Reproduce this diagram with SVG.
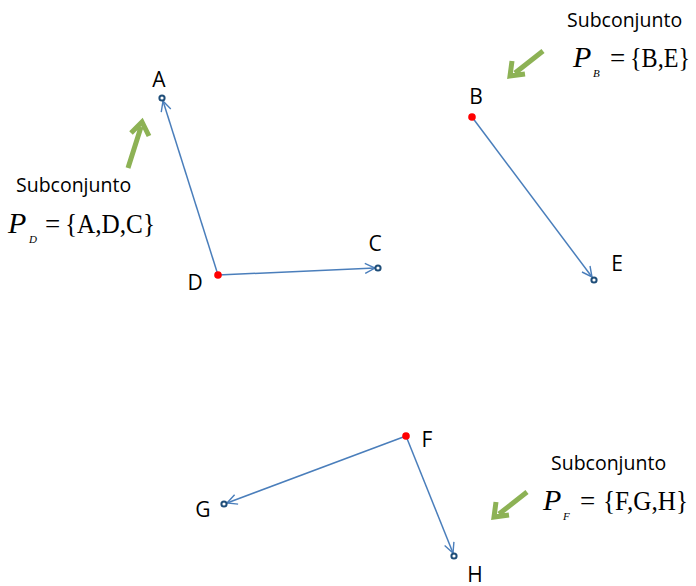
<svg xmlns="http://www.w3.org/2000/svg" width="696" height="586" viewBox="0 0 696 586">
<defs>
<marker id="open" viewBox="0 0 12 12" refX="11" refY="6" markerWidth="12" markerHeight="12" markerUnits="userSpaceOnUse" orient="auto">
<path d="M1,1 L11,6 L1,11" fill="none" stroke="#4a7ebb" stroke-width="1.4"/>
</marker>
</defs>
<style>
.lbl{font-family:"Open Sans","Liberation Sans",sans-serif;font-size:21px;fill:#000}
.sub{font-family:"Open Sans","Liberation Sans",sans-serif;font-size:19.5px;fill:#000}
.mP{font-family:"Liberation Serif",serif;font-style:italic;font-size:30px;fill:#000}
.ms{font-family:"Liberation Serif",serif;font-style:italic;font-size:11px;fill:#000}
.mt{font-family:"Liberation Serif",serif;font-size:27px;fill:#000}
.edge{stroke:#4a7ebb;stroke-width:1.5;fill:none;marker-end:url(#open)}
.red{fill:#ff0000}
.end{fill:#fff;stroke:#1f4e79;stroke-width:2}
.garr{stroke:#8db255;stroke-width:5;fill:none}
</style>
<g id="connectors">
<line class="edge" x1="218" y1="275" x2="163" y2="101"/>
<line class="edge" x1="218" y1="275" x2="375" y2="268"/>
<line class="edge" x1="472" y1="117" x2="592" y2="277"/>
<line class="edge" x1="406" y1="436" x2="227" y2="503"/>
<line class="edge" x1="406" y1="436" x2="453" y2="553"/>
</g>
<g id="nodeA"><circle class="end" cx="162" cy="98" r="2.6"/><text class="lbl" x="159" y="87" text-anchor="middle">A</text></g>
<g id="nodeD"><circle class="red" cx="218" cy="275" r="3.8"/><text class="lbl" x="195" y="290" text-anchor="middle">D</text></g>
<g id="nodeC"><circle class="end" cx="378" cy="268" r="2.6"/><text class="lbl" x="375" y="251" text-anchor="middle">C</text></g>
<g id="nodeB"><circle class="red" cx="472" cy="117" r="3.8"/><text class="lbl" x="476" y="104" text-anchor="middle">B</text></g>
<g id="nodeE"><circle class="end" cx="594" cy="280" r="2.6"/><text class="lbl" x="617" y="271" text-anchor="middle">E</text></g>
<g id="nodeF"><circle class="red" cx="406" cy="436" r="3.8"/><text class="lbl" x="427" y="447" text-anchor="middle">F</text></g>
<g id="nodeG"><circle class="end" cx="224" cy="504" r="2.6"/><text class="lbl" x="203" y="517" text-anchor="middle">G</text></g>
<g id="nodeH"><circle class="end" cx="454" cy="556" r="2.6"/><text class="lbl" x="475" y="582" text-anchor="middle">H</text></g>
<g id="labelPD">
<path class="garr" d="M128,168 L141,127 M131,133 L142,122 L149,136"/>
<text class="sub" x="16" y="192">Subconjunto</text>
<text class="mP" x="8" y="233">P</text><text class="ms" x="29" y="243">D</text>
<text class="mt" x="45" y="233">=</text><text class="mt" x="65" y="233" textLength="90" lengthAdjust="spacingAndGlyphs">{A,D,C}</text>
</g>
<g id="labelPB">
<path class="garr" d="M543,51 L515,73 M512,61 L510,76 L525,74"/>
<text class="sub" x="567" y="27">Subconjunto</text>
<text class="mP" x="573" y="67">P</text><text class="ms" x="593" y="77">B</text>
<text class="mt" x="610" y="67">=</text><text class="mt" x="630" y="67" textLength="60" lengthAdjust="spacingAndGlyphs">{B,E}</text>
</g>
<g id="labelPF">
<path class="garr" d="M527,492 L499,514 M496,502 L494,517 L509,515"/>
<text class="sub" x="551" y="470">Subconjunto</text>
<text class="mP" x="543" y="510">P</text><text class="ms" x="563" y="520">F</text>
<text class="mt" x="580" y="510">=</text><text class="mt" x="603" y="510" textLength="85" lengthAdjust="spacingAndGlyphs">{F,G,H}</text>
</g>
</svg>
